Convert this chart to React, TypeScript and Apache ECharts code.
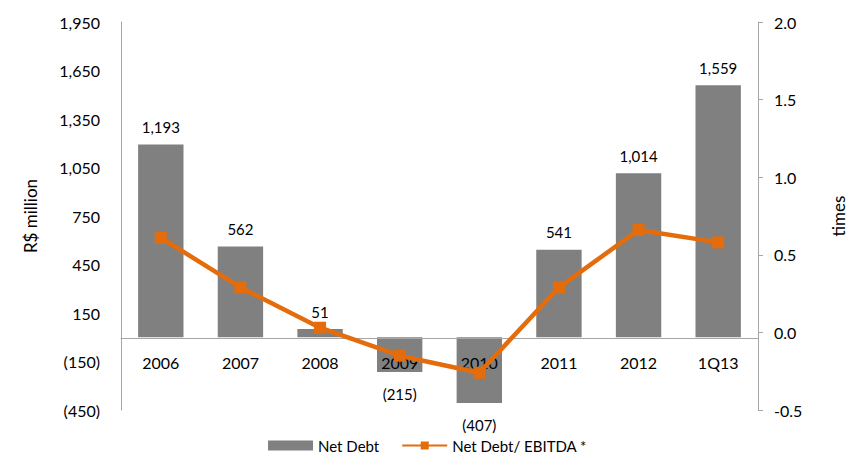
import React, { useEffect, useRef } from "react";
import * as echarts from "echarts";

const categories = ["2006", "2007", "2008", "2009", "2010", "2011", "2012", "1Q13"];
const netDebt = [1193, 562, 51, -215, -407, 541, 1014, 1559];
const netDebtEbitda = [0.61, 0.29, 0.03, -0.15, -0.26, 0.29, 0.66, 0.58];

const fmt = (v: number) => {
  const s = Math.abs(v).toLocaleString("en-US");
  return v < 0 ? `(${s})` : s;
};

export default function App() {
  const ref = useRef<HTMLDivElement>(null);
  useEffect(() => {
    if (!ref.current) return;
    const chart = echarts.init(ref.current, undefined, { renderer: "svg" });
    const font = "Lato, 'Open Sans', sans-serif";
    chart.setOption({
      animation: false,
      textStyle: { fontFamily: font },
      grid: { left: 121, right: 90, top: 22, bottom: 51 },
      legend: {
        bottom: 3,
        left: "center",
        itemGap: 22,
        textStyle: { fontSize: 15, color: "#000", fontFamily: font },
        data: [
          { name: "Net Debt", icon: "rect", itemStyle: { color: "#808080" } },
          { name: "Net Debt/ EBITDA *" },
        ],
        itemWidth: 45,
        itemHeight: 10,
      },
      xAxis: {
        type: "category",
        data: categories,
        position: "bottom",
        offset: -72,
        z: 3,
        axisLine: { onZero: false, lineStyle: { color: "#a6a6a6", width: 1 } },
        axisTick: { show: false },
        axisLabel: { fontSize: 16, color: "#000", margin: 16, fontFamily: font },
      },
      yAxis: [
        {
          type: "value",
          min: -450,
          max: 1950,
          interval: 300,
          name: "R$ million",
          nameLocation: "middle",
          nameGap: 82,
          nameTextStyle: { fontSize: 17, color: "#000", fontFamily: font },
          axisLine: { show: true, onZero: false, lineStyle: { color: "#a6a6a6" } },
          axisTick: { show: false },
          splitLine: { show: false },
          axisLabel: { fontSize: 16, color: "#000", margin: 21, formatter: (v: number) => fmt(v), fontFamily: font },
        },
        {
          type: "value",
          min: -0.5,
          max: 2.0,
          interval: 0.5,
          name: "times",
          nameLocation: "middle",
          nameGap: 72,
          nameTextStyle: { fontSize: 17, color: "#000", fontFamily: font },
          axisLine: { show: true, onZero: false, lineStyle: { color: "#a6a6a6" } },
          axisTick: { show: true, length: 5, lineStyle: { color: "#a6a6a6" } },
          splitLine: { show: false },
          axisLabel: { fontSize: 16, color: "#000", margin: 16, formatter: (v: number) => v.toFixed(1), fontFamily: font },
        },
      ],
      series: [
        {
          name: "Net Debt",
          type: "bar",
          yAxisIndex: 0,
          barWidth: "57%",
          itemStyle: { color: "#808080" },
          data: netDebt.map((v) => ({
            value: v,
            label: { position: v < 0 ? "bottom" : "top", distance: v < 0 ? 14 : 10 },
          })),
          label: {
            show: true,
            fontSize: 15,
            color: "#000",
            fontFamily: font,
            formatter: (p: any) => fmt(p.value),
          },
          z: 1,
        },
        {
          name: "Net Debt/ EBITDA *",
          type: "line",
          yAxisIndex: 1,
          data: netDebtEbitda,
          symbol: "rect",
          symbolSize: 12,
          lineStyle: { color: "#E46C0A", width: 4.5 },
          itemStyle: { color: "#E46C0A" },
          z: 5,
        },
      ],
    });
    return () => chart.dispose();
  }, []);
  return <div ref={ref} style={{ width: 855, height: 461, margin: -8 }} />;
}
